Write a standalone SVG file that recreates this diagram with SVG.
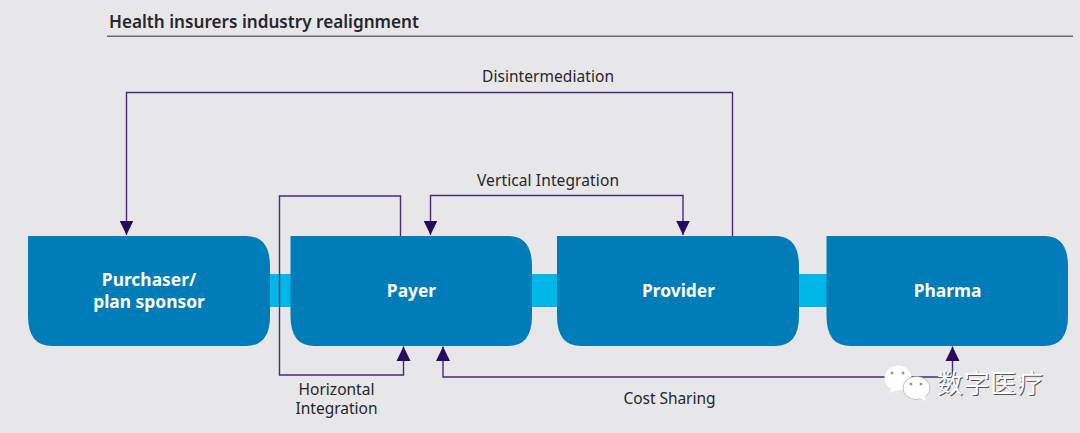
<svg xmlns="http://www.w3.org/2000/svg" width="1080" height="433" viewBox="0 0 1080 433">
<defs>
<marker id="ah" markerUnits="userSpaceOnUse" markerWidth="15" markerHeight="15" refX="14.500" refY="7.500" orient="auto-start-reverse" viewBox="0 0 15 15"><path d="M0 0.500V14.500L14.500 7.500Z" fill="#2a0a5c"/></marker>
</defs>
<style>
text{font-family:"Noto Sans","Open Sans","Liberation Sans",sans-serif}
.box{fill:#007cb8}
.link{fill:#00b8e8}
.conn{fill:none;stroke:#4a2a78;stroke-width:1.4}
.arr{marker-end:url(#ah)}
.lbl{font-size:15.500px;fill:#26262c;text-anchor:middle}
.nl{font-size:17.400px;font-weight:700;fill:#fff;text-anchor:middle}
</style>
<rect width="1080" height="433" fill="#e7e7ea"/>
<g id="title">
<text x="109" y="27.500" font-size="17.500" font-weight="600" fill="#26262c" textLength="310" lengthAdjust="spacingAndGlyphs">Health insurers industry realignment</text>
<rect x="107" y="35.500" width="966" height="1.500" fill="#6c6c70"/>
</g>
<g id="bars">
<rect class="link" x="265" y="274" width="30" height="33"/>
<rect class="link" x="527" y="274" width="35" height="33"/>
<rect class="link" x="794" y="274" width="37" height="33"/>
</g>
<g id="purchaser">
<path class="box" d="M28 236H246Q270 236 270 266V316Q270 346 246 346H52Q28 346 28 316Z"/>
<text class="nl"><tspan x="149" y="286">Purchaser/</tspan><tspan x="149" y="308">plan sponsor</tspan></text>
</g>
<g id="payer">
<path class="box" d="M290.500 236H508Q532 236 532 266V316Q532 346 508 346H314.500Q290.500 346 290.500 316Z"/>
<text class="nl" x="411.500" y="297">Payer</text>
</g>
<g id="provider">
<path class="box" d="M557 236H775Q799 236 799 266V316Q799 346 775 346H581Q557 346 557 316Z"/>
<text class="nl" x="678.500" y="297">Provider</text>
</g>
<g id="pharma">
<path class="box" d="M826.500 236H1044Q1068 236 1068 266V316Q1068 346 1044 346H850.500Q826.500 346 826.500 316Z"/>
<text class="nl" x="947.500" y="297">Pharma</text>
</g>
<g id="connectors">
<path class="conn arr" d="M732.500 236V92.500H126.500V235"/>
<path class="conn arr" style="marker-start:url(#ah)" d="M430.500 235V195.500H683V235"/>
<path class="conn arr" d="M400.500 236V196H279.500V375H403.500V346.500"/>
<path class="conn arr" d="M952.500 377H443V346.500"/>
<path class="conn arr" d="M952.500 377V346.500"/>
</g>
<g id="labels">
<text class="lbl" x="548" y="81.500" textLength="132">Disintermediation</text>
<text class="lbl" x="548" y="185.500" textLength="142">Vertical Integration</text>
<text class="lbl"><tspan x="336.500" y="394.500">Horizontal</tspan><tspan x="336.500" y="413.500">Integration</tspan></text>
<text class="lbl" x="669.500" y="403.500" textLength="92">Cost Sharing</text>
</g>
<g id="watermark">
<ellipse cx="898" cy="378" rx="13.500" ry="12.500" fill="#fff"/>
<path d="M892 388l-3 5 9-3z" fill="#fff"/>
<ellipse cx="916.500" cy="388" rx="13.500" ry="11.500" fill="#fff" stroke="#8a8a8a" stroke-width=".5"/>
<path d="M919 398l7 3-1-6z" fill="#fff"/>
<circle cx="892" cy="373" r="1.500" fill="#999"/><circle cx="903" cy="373" r="1.500" fill="#999"/>
<circle cx="911" cy="384" r="1.500" fill="#999"/><circle cx="921" cy="384" r="1.500" fill="#999"/>
<text x="938" y="394" font-size="26" fill="#555" style="font-family:'Noto Sans CJK SC',sans-serif" textLength="106">数字医疗</text>
<text x="937" y="393" font-size="26" fill="#fff" style="font-family:'Noto Sans CJK SC',sans-serif" textLength="106">数字医疗</text>
</g>
</svg>
